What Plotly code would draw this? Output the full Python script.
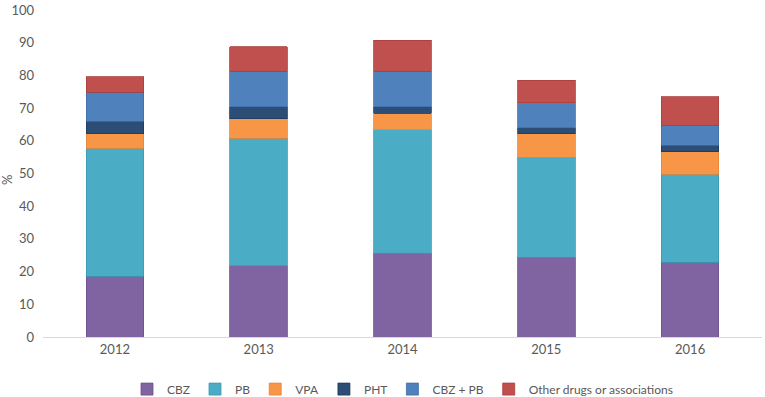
import plotly.graph_objects as go

years = ["2012", "2013", "2014", "2015", "2016"]
series_names = ["CBZ", "PB", "VPA", "PHT", "CBZ + PB", "Other drugs or associations"]
cbz = [18.6, 21.8, 25.6, 24.4, 22.9]
pb = [39.1, 39.0, 37.8, 30.6, 26.9]
vpa = [4.5, 5.9, 5.1, 7.2, 6.9]
pht = [3.8, 3.7, 1.9, 1.8, 1.9]
cbz_pb = [8.8, 10.9, 10.9, 7.6, 6.0]
other = [4.8, 7.5, 9.4, 6.9, 8.8]
y_ticks = [0, 10, 20, 30, 40, 50, 60, 70, 80, 90, 100]

colors = ["#8064A2", "#4BACC6", "#F79646", "#2C4D75", "#4F81BD", "#C0504D"]
borders = ["#6B4F8F", "#3A9BB5", "#E8853A", "#1F3A5C", "#3F6FAA", "#A83F3C"]
values = [cbz, pb, vpa, pht, cbz_pb, other]

fig = go.Figure()
for name, vals, c, bc in zip(series_names, values, colors, borders):
    fig.add_trace(go.Bar(
        x=years, y=vals, name=name,
        marker=dict(color=c, line=dict(color=bc, width=0.8)),
    ))

fig.update_layout(
    barmode="stack",
    bargap=0.6,
    width=765, height=397,
    margin=dict(l=43, r=3, t=10, b=60, autoexpand=False),
    paper_bgcolor="white",
    plot_bgcolor="white",
    font=dict(family="Lato, 'Open Sans', sans-serif", size=13, color="#595959"),
    legend=dict(orientation="h", x=0.5, xanchor="center", y=-0.115, yanchor="top",
                font=dict(size=12, color="#595959"), itemwidth=30,
                traceorder="normal", tracegroupgap=0),
    xaxis=dict(showline=True, linecolor="#D9D9D9", linewidth=1, ticks="",
               automargin=False, tickfont=dict(size=13, color="#595959")),
    yaxis=dict(range=[0, 100], tickvals=y_ticks, showgrid=False, showline=False,
               zeroline=False, ticks="", ticklabelstandoff=8, automargin=False,
               tickfont=dict(size=13, color="#595959")),
    annotations=[dict(text="%", xref="paper", yref="paper", x=-0.05, y=0.48,
                      xanchor="center", yanchor="middle", textangle=-90, showarrow=False,
                      font=dict(size=13, color="#595959"))],
)

fig.write_html("out.html", config={"displayModeBar": False},
               post_script="document.body.style.margin='0';document.body.style.overflow='hidden';")
